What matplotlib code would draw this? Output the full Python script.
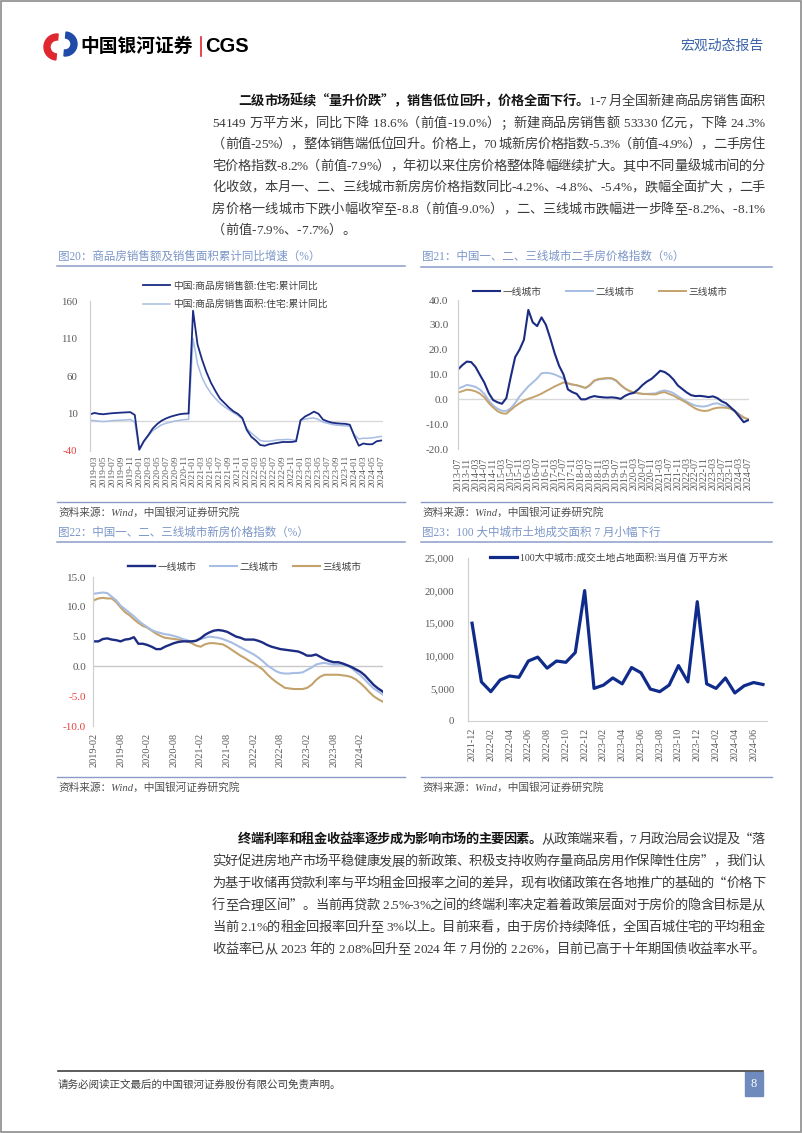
import numpy as np
import pandas as pd
import matplotlib
matplotlib.use("Agg")
import matplotlib.pyplot as plt
from matplotlib.patches import Rectangle, Wedge
from matplotlib.font_manager import FontProperties, findfont, get_font

W, H = 802, 1133
CJK = 'Noto Sans CJK SC'
SERIF = 'Liberation Serif'
MIX = [SERIF, CJK]
plt.rcParams['font.family'] = MIX

AZUL = '#1b2c82'
CLARO = '#a7bde3'
ORO = '#c4a26c'
GRIS = '#595959'
ROJO = '#e8413c'
TITULO = '#7b96c8'
LINEA = '#8a9cc8'

# ---------------- DATOS ----------------
# 图20: 2019-02 ~ 2024-07, mensual
meses20 = list(pd.period_range('2019-02', '2024-07', freq='M').strftime('%Y-%m'))
monto20 = [8.7, 10.8, 9.5, 9.0, 9.8, 10.4, 10.8, 11.2, 11.5, 11.8,
           8.0, -38, -27, -19, -10, -4, 0.5, 3.5, 5.8, 7.5,
           9.0, 9.8, 10.0, 147, 102, 82, 65, 51, 40, 30,
           24, 18, 13, 9.5, 4, -12, -21, -26, -32, -33,
           -31, -30, -29, -28, -28, -28, -27, 1, 6, 9,
           12.5, 9.6, 2, -0.5, -2.2, -3, -3.5, -3.8, -5, -20,
           -33, -30, -31, -31, -27, -26]
area20 = [0.7, 0.5, -0.3, -0.7, -0.3, 0.5, 0.8, 1.2, 1.5, 2.0,
          -1.5, -39, -28, -20, -13, -9, -5, -3, -1.5, 0,
          1, 1.8, 2.2, 110, 76, 58, 46, 37, 30, 24,
          19, 15, 11, 7.5, 2.5, -10, -16, -21, -26, -27,
          -27, -26, -25, -25, -24.5, -25, -26, 1, 2.5, 3.5,
          4, 2, -1.5, -3, -4.5, -5.5, -6, -6.5, -7, -18,
          -24, -23, -23, -22.5, -21.5, -20.5]
leyenda20 = ['中国:商品房销售额:住宅:累计同比', '中国:商品房销售面积:住宅:累计同比']

# 图21: 2013-07 ~ 2024-07, cada dos meses
meses21 = list(pd.period_range('2013-07', '2024-07', freq='M').strftime('%Y-%m'))
tier1_21 = [12.0, 13.8, 15.2, 15.0, 13.0, 9.8, 6.7, 2.5, -0.3, -1.2,
            -1.8, 0.5, 9.0, 17.0, 20.0, 24.0, 36.0, 31.0, 29.5, 33.0,
            30.0, 24.5, 18.5, 13.5, 10.0, 4.0, 2.9, 2.2, 0.0, 0.0,
            0.8, 1.3, 1.0, 0.8, 0.7, 0.8, 0.6, 0.2, 1.4, 2.2,
            2.6, 4.0, 5.8, 7.2, 8.2, 9.8, 11.5, 11.0, 9.8, 8.0,
            5.6, 4.2, 2.8, 1.7, 1.3, 1.4, 1.2, 0.9, 1.2, 0.5,
            -0.8, -1.6, -3.2, -4.8, -7.0, -9.2, -8.4]
tier2_21 = [4.3, 5.0, 5.8, 5.5, 5.0, 3.9, 2.2, -0.5, -2.5, -3.8,
            -4.6, -4.7, -3.6, -1.5, 1.2, 3.2, 5.2, 6.8, 8.4, 10.5,
            10.7, 10.5, 10.0, 9.2, 8.4, 6.3, 5.9, 5.6, 5.1, 4.5,
            5.6, 7.4, 8.0, 8.2, 8.4, 8.3, 7.4, 5.7, 4.3, 3.3,
            2.7, 2.4, 2.2, 2.2, 2.3, 2.4, 3.2, 3.6, 3.2, 2.5,
            1.3, 0.2, -0.9, -1.8, -2.5, -2.8, -2.9, -2.5, -1.8, -1.6,
            -2.2, -2.8, -3.6, -4.6, -6.0, -7.2, -8.2]
tier3_21 = [2.7, 3.3, 3.9, 3.7, 3.2, 2.3, 0.8, -1.5, -3.3, -4.8,
            -5.6, -5.8, -4.3, -2.8, -1.6, -0.5, 0.2, 0.8, 1.5, 2.3,
            3.3, 4.2, 5.2, 6.0, 6.8, 6.5, 6.0, 5.7, 5.2, 4.6,
            5.8, 7.6, 8.2, 8.4, 8.6, 8.5, 7.6, 5.8, 4.4, 3.4,
            2.8, 2.5, 2.2, 2.1, 2.0, 2.0, 2.6, 2.9, 2.2, 1.5,
            0.5, -0.4, -1.4, -2.6, -3.7, -4.4, -4.7, -4.5, -3.8, -3.4,
            -3.3, -3.4, -3.8, -4.8, -6.2, -7.4, -7.9]
ciudades = ['一线城市', '二线城市', '三线城市']

# 图22: 2019-02 ~ 2024-07, mensual
meses22 = list(pd.period_range('2019-02', '2024-07', freq='M').strftime('%Y-%m'))
tier1_22 = [4.2, 4.2, 4.6, 4.7, 4.5, 4.4, 4.2, 4.5, 4.6, 4.9,
            3.8, 3.8, 3.6, 3.3, 2.9, 2.9, 3.3, 3.6, 3.9, 4.1,
            4.2, 4.2, 4.2, 4.3, 4.7, 5.3, 5.7, 6.0, 6.1, 6.0,
            5.8, 5.4, 5.0, 4.8, 4.5, 4.5, 4.5, 4.3, 4.0, 3.6,
            3.3, 3.1, 2.9, 2.8, 2.7, 2.6, 2.5, 2.2, 1.8, 1.8,
            2.0, 1.6, 1.2, 0.9, 0.7, 0.7, 0.5, 0.2, -0.1, -0.5,
            -0.9, -1.5, -2.3, -3.1, -3.7, -4.2]
tier2_22 = [12.2, 12.3, 12.4, 12.3, 11.7, 11.1, 10.2, 9.6, 9.0, 8.4,
            7.7, 7.1, 6.6, 6.1, 5.8, 5.6, 5.4, 5.3, 5.1, 4.9,
            4.6, 4.4, 4.1, 4.3, 4.6, 4.8, 5.0, 4.9, 4.8, 4.6,
            4.3, 4.0, 3.6, 3.2, 2.8, 2.4, 2.0, 1.5, 0.9, 0.2,
            -0.3, -0.8, -1.1, -1.2, -1.2, -1.1, -1.1, -1.0, -0.6, -0.2,
            0.3, 0.5, 0.6, 0.4, 0.3, 0.3, 0.3, 0.2, -0.3, -0.9,
            -1.5, -2.2, -3.0, -3.7, -4.2, -4.7]
tier3_22 = [11.1, 11.4, 11.5, 11.4, 11.4, 10.8, 9.9, 9.1, 8.6, 7.9,
            7.3, 6.8, 6.5, 6.0, 5.5, 5.1, 4.8, 4.7, 4.6, 4.5,
            4.4, 4.2, 3.9, 3.5, 3.3, 3.7, 3.9, 3.9, 3.8, 3.7,
            3.3, 2.8, 2.3, 1.8, 1.4, 0.9, 0.5, 0.0, -0.5, -1.3,
            -2.0, -2.6, -3.1, -3.6, -3.7, -3.8, -3.8, -3.8, -3.6, -3.1,
            -2.3, -1.7, -1.4, -1.4, -1.4, -1.4, -1.5, -1.6, -1.8, -2.2,
            -2.8, -3.5, -4.3, -5.0, -5.5, -5.9]

# 图23: 2021-12 ~ 2024-07, mensual (万平方米)
meses23 = list(pd.period_range('2021-12', '2024-07', freq='M').strftime('%Y-%m'))
tierra23 = [15000, 6000, 4500, 6300, 6900, 6700, 9200, 9800, 8100, 9200,
            9000, 10500, 20000, 5000, 5500, 6600, 5700, 8200, 7400, 4900,
            4500, 5500, 8500, 6000, 18300, 5700, 5000, 6600, 4300, 5400,
            5900, 5600]
leyenda23 = '100大中城市:成交土地占地面积:当月值 万平方米'

# textos
parrafo1 = [
    [("二级市场延续“量升价跌”，销售低位回升，价格全面下行。", True), ("1-7 月全国新建商品房销售面积", False)],
    [("54149 万平方米，同比下降 18.6%（前值-19.0%）；新建商品房销售额 53330 亿元，下降 24.3%", False)],
    [("（前值-25%），整体销售端低位回升。价格上，70 城新房价格指数-5.3%（前值-4.9%），二手房住", False)],
    [("宅价格指数-8.2%（前值-7.9%），年初以来住房价格整体降幅继续扩大。其中不同量级城市间的分", False)],
    [("化收敛，本月一、二、三线城市新房房价格指数同比-4.2%、-4.8%、-5.4%，跌幅全面扩大 ，二手", False)],
    [("房价格一线城市下跌小幅收窄至-8.8（前值-9.0%），二、三线城市跌幅进一步降至-8.2%、-8.1%", False)],
    [("（前值-7.9%、-7.7%）。", False)],
]
parrafo2 = [
    [("终端利率和租金收益率逐步成为影响市场的主要因素。", True), ("从政策端来看，7 月政治局会议提及“落", False)],
    [("实好促进房地产市场平稳健康发展的新政策、积极支持收购存量商品房用作保障性住房”，我们认", False)],
    [("为基于收储再贷款利率与平均租金回报率之间的差异，现有收储政策在各地推广的基础的“价格下", False)],
    [("行至合理区间”。当前再贷款 2.5%-3%之间的终端利率决定着着政策层面对于房价的隐含目标是从", False)],
    [("当前 2.1%的租金回报率回升至 3%以上。目前来看，由于房价持续降低，全国百城住宅的平均租金", False)],
    [("收益率已从 2023 年的 2.08%回升至 2024 年 7 月份的 2.26%，目前已高于十年期国债收益率水平。", False)],
]
fuente = '资料来源：Wind，中国银河证券研究院'

# ---------------- FIGURA ----------------
fig = plt.figure(figsize=(W / 100, H / 100), dpi=100)
ax0 = fig.add_axes([0, 0, 1, 1])
ax0.set_xlim(0, W)
ax0.set_ylim(H, 0)
ax0.axis('off')

# marco de la pagina
ax0.add_patch(Rectangle((0.8, 0.8), W - 1.6, H - 1.6, fill=False, ec='#8c8c8c', lw=1.2))

# cabecera
ax0.add_patch(Wedge((57, 47), 13, 95, 275, width=6, color='#e0262e'))
ax0.add_patch(Wedge((65, 44), 12, -85, 95, width=6, color='#1f4aa8'))
ax0.text(80, 46, '中国银河证券', family=CJK, weight='bold', fontsize=13.5, color='black', va='center')
ax0.plot([201, 201], [37, 56], color='#e0262e', lw=1.2)
ax0.text(205, 46, 'CGS', family='Liberation Sans', weight='bold', fontsize=14.5, color='black', va='center')
ax0.text(764, 46, '宏观动态报告', family=CJK, fontsize=10, color='#3a62a8', va='center', ha='right')

# texto justificado, caracter por caracter
_cache = {}


def medir(c, negrita, size):
    fam = SERIF if ord(c) < 128 else CJK
    key = (c, fam, negrita, size)
    if key not in _cache:
        prop = FontProperties(family=fam, weight='bold' if negrita else 'normal', size=size)
        f = get_font(findfont(prop))
        f.set_size(size, 100)
        g = f.load_char(ord(c))
        _cache[key] = (g.linearHoriAdvance / 65536, prop)
    return _cache[key]


def linea_texto(segs, x0, yc, x1=None, size=9.5):
    items = []
    for s, b in segs:
        for c in s:
            w, prop = medir(c, b, size)
            items.append((c, w, prop, b))
    total = sum(it[1] for it in items)
    gap = (x1 - x0 - total) / (len(items) - 1) if x1 else 0
    x = x0
    for c, w, prop, b in items:
        if c != ' ':
            ax0.text(x, yc + 4.8, c, fontproperties=prop, va='baseline', ha='left',
                     color='#141414' if b else '#3a3a3a')
        x += w + gap


def parrafo(lineas, ys, justificar_ultima):
    for i, (segs, y) in enumerate(zip(lineas, ys)):
        x0 = 238 if i == 0 else 212
        ultima = i == len(lineas) - 1
        x1 = 765 if (not ultima or justificar_ultima) else None
        linea_texto(segs, x0, y, x1)


parrafo(parrafo1, [100, 122, 143, 165, 186, 208, 229], False)
parrafo(parrafo2, [838, 860, 882, 904, 926, 948], True)


# marcos de graficos
def marco(x0, x1, y_tit, y_sub, y_fin, titulo):
    ax0.text(x0 + 1, y_tit, titulo, family=MIX, fontsize=8.3, color=TITULO, va='center')
    ax0.plot([x0, x1], [y_sub, y_sub], color=LINEA, lw=1.1)
    ax0.plot([x0, x1], [y_fin, y_fin], color=LINEA, lw=1.0)
    ax0.text(x0 + 1, y_fin + 10, fuente, family=MIX, fontsize=7.7, color='#505050',
             va='center', style='italic')


marco(57, 405, 257, 266, 502, '图20：商品房销售额及销售面积累计同比增速（%）')
marco(421, 772, 257, 267, 502, '图21：中国一、二、三线城市二手房价格指数（%）')
marco(57, 405, 533, 542, 777, '图22：中国一、二、三线城市新房价格指数（%）')
marco(421, 772, 533, 542, 777, '图23：100 大中城市土地成交面积 7 月小幅下行')

# pie de pagina
ax0.plot([58, 763], [1071, 1071], color='#404040', lw=1.2)
ax0.text(58, 1085, '请务必阅读正文最后的中国银河证券股份有限公司免责声明。', family=CJK,
         fontsize=7.6, color='#404040', va='center')
ax0.add_patch(Rectangle((745, 1072), 18, 24, color='#6f8bbd'))
ax0.text(754, 1084, '8', family=SERIF, fontsize=9, color='white', ha='center', va='center')


def ejes(x0, y0, x1, y1):
    ax = fig.add_axes([x0 / W, 1 - y1 / H, (x1 - x0) / W, (y1 - y0) / H])
    ax.set_facecolor('none')
    for s in ['top', 'right', 'bottom']:
        ax.spines[s].set_visible(False)
    ax.spines['left'].set_color('#d0d0d0')
    ax.spines['left'].set_linewidth(0.9)
    ax.tick_params(length=0, colors=GRIS)
    return ax


def leyenda(ax, handles, labels, x, y, ncol, colsp=2.0, lblsp=0.5):
    ax.legend(handles, labels, loc='center left', bbox_to_anchor=(x / W, 1 - y / H),
              bbox_transform=fig.transFigure, frameon=False, ncol=ncol, borderpad=0,
              borderaxespad=0, handlelength=2.8, handletextpad=0.25, columnspacing=colsp,
              labelspacing=lblsp, prop={'family': MIX, 'size': 7}, labelcolor='#404040')


# ---- 图20 ----
ax = ejes(90, 301, 383, 451)
x20 = np.arange(len(meses20))
ax.axhline(0, color='#d9d9d9', lw=1, zorder=1)
l2, = ax.plot(x20, area20, color=CLARO, lw=1.1)
l1, = ax.plot(x20, monto20, color=AZUL, lw=1.3)
ax.set_xlim(0, 65.4)
ax.set_ylim(-40, 160)
ax.set_yticks([-40, 10, 60, 110, 160])
ax.set_yticklabels(['-40', '10', '60', '110', '160'], fontsize=7.8)
ax.get_yticklabels()[0].set_color(ROJO)
ax.set_xticks(x20[1::2])
ax.set_xticklabels(meses20[1::2], rotation=90, fontsize=6.8)
ax.tick_params(axis='y', pad=9)
ax.tick_params(axis='x', pad=3)
leyenda(ax, [l1, l2], leyenda20, 143, 295, 1, lblsp=0.9)

# ---- 图21 ----
ax = ejes(458, 300, 749, 449)
x21 = np.arange(len(meses21))[::2]
ax.axhline(0, color='#d9d9d9', lw=1, zorder=1)
a, = ax.plot(x21, tier2_21, color=CLARO, lw=1.4)
b, = ax.plot(x21, tier3_21, color=ORO, lw=1.4)
c, = ax.plot(x21, tier1_21, color=AZUL, lw=1.5)
ax.set_xlim(0, 132.4)
ax.set_ylim(-20, 40)
ticks21 = np.arange(-20, 41, 10)
ax.set_yticks(ticks21)
ax.set_yticklabels([f'{v:.1f}' for v in ticks21], fontsize=8)
ax.set_xticks(np.arange(len(meses21))[::4])
ax.set_xticklabels(meses21[::4], rotation=90, fontsize=7.2)
ax.tick_params(axis='y', pad=7)
ax.tick_params(axis='x', pad=6)
leyenda(ax, [c, a, b], ciudades, 473, 292, 3, colsp=2.5)

# ---- 图22 ----
ax = ejes(93, 577, 383, 726)
x22 = np.arange(len(meses22))
ax.axhline(0, color='#c8c8c8', lw=1, zorder=1)
b, = ax.plot(x22, tier3_22, color=ORO, lw=1.5)
a, = ax.plot(x22, tier2_22, color=CLARO, lw=1.5)
c, = ax.plot(x22, tier1_22, color=AZUL, lw=1.7)
ax.set_xlim(-0.22, 65.1)
ax.set_ylim(-10, 15)
ticks22 = np.arange(-10, 16, 5)
ax.set_yticks(ticks22)
ax.set_yticklabels([f'{v:.1f}' for v in ticks22], fontsize=8)
for t, v in zip(ax.get_yticklabels(), ticks22):
    if v < 0:
        t.set_color(ROJO)
ax.set_xticks(x22[::6])
ax.set_xticklabels(meses22[::6], rotation=90, fontsize=7.4)
ax.tick_params(axis='y', pad=5)
ax.tick_params(axis='x', pad=5)
leyenda(ax, [c, a, b], ciudades, 128, 567, 3, colsp=1.4)

# ---- 图23 ----
ax = ejes(468, 558, 767, 721)
x23 = np.arange(len(meses23))
ax.spines['bottom'].set_visible(True)
ax.spines['bottom'].set_color('#d0d0d0')
l, = ax.plot(x23, tierra23, color='#102c8a', lw=2.3)
ax.set_xlim(-0.43, 31.43)
ax.set_ylim(0, 25000)
ticks23 = np.arange(0, 25001, 5000)
ax.set_yticks(ticks23)
ax.set_yticklabels([f'{v:,}' for v in ticks23], fontsize=7.8)
ax.set_xticks(x23[::2])
ax.set_xticklabels(meses23[::2], rotation=90, fontsize=7.2)
ax.tick_params(axis='y', pad=10)
ax.tick_params(axis='x', pad=5)
leyenda(ax, [l], [leyenda23], 490, 558, 1)

fig.savefig('out.png', dpi=100)
